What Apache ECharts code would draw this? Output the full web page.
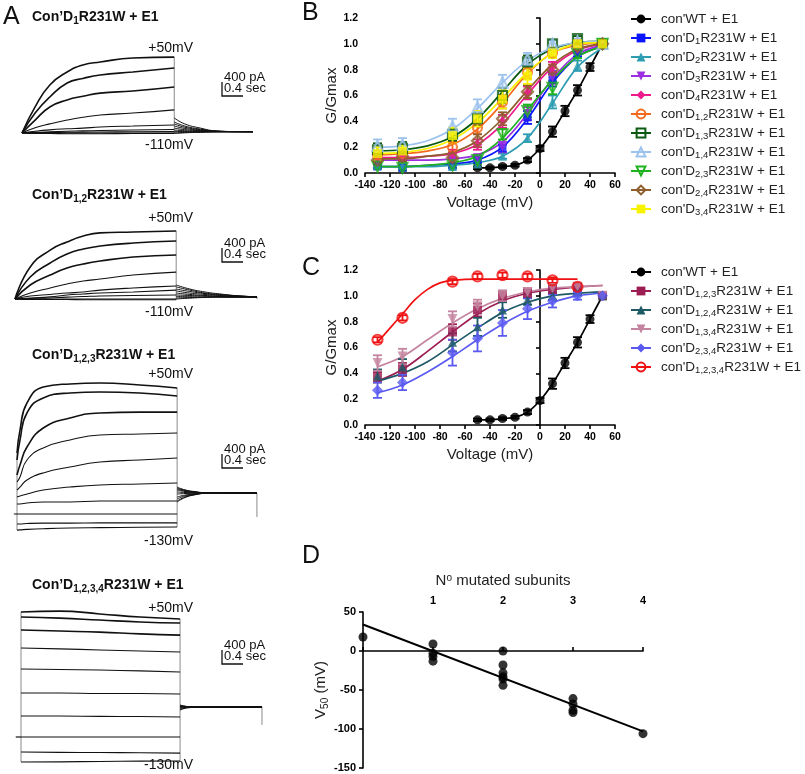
<!DOCTYPE html>
<html><head><meta charset="utf-8">
<script src="https://cdn.jsdelivr.net/npm/echarts@6/dist/echarts.min.js"></script>
<style>html,body{margin:0;padding:0;background:#fff}#c{width:805px;height:774px}</style>
</head><body><div id="c"></div>
<script>
const FONT = "'Liberation Sans', Arial, Helvetica, sans-serif";

// ---------------- Panel A : current traces (time in s, current in pA) ----------------
const a1StepT = [0, 0.25, 0.53, 0.86, 1.16, 1.49, 2.11, 2.9];
const a1Step = [
  [0, 745, 1373, 1745, 1945, 2030, 2145, 2170],
  [0, 570, 1030, 1430, 1560, 1660, 1745, 1860],
  [0, 370, 745, 945, 1050, 1140, 1200, 1315],
  [0, 150, 260, 370, 450, 515, 570, 660],
  [0, 50, 90, 120, 140, 170, 200, 230],
  [0, 20, 35, 50, 60, 70, 85, 100],
  [0, 10, 15, 20, 25, 30, 35, 40],
  [0, 0, 0, 0, 0, 0, 0, 0],
  [0, -15, -15, -20, -20, -20, -15, -15]
];
const a1TailT = [2.9, 3.1, 3.4, 3.7, 4.1, 4.4];
const a1Tail = [
  [430, 260, 140, 60, 40, 37],
  [315, 200, 110, 55, 40, 37],
  [260, 165, 95, 50, 40, 37],
  [200, 130, 80, 48, 40, 37],
  [140, 95, 65, 45, 38, 37],
  [85, 65, 50, 42, 38, 37],
  [45, 42, 40, 38, 37, 37],
  [5, 15, 25, 32, 35, 37],
  [-15, 5, 20, 30, 35, 37]
];

const a2StepT = [0, 0.29, 0.67, 0.99, 1.30, 1.62, 2.25, 3.07];
const a2Step = [
  [0, 915, 1400, 1630, 1800, 1890, 1915, 1945],
  [0, 630, 1030, 1285, 1430, 1515, 1600, 1660],
  [0, 400, 685, 885, 1000, 1085, 1200, 1260],
  [0, 170, 315, 430, 515, 570, 685, 770],
  [0, 85, 130, 170, 200, 255, 315, 370],
  [0, 30, 60, 115, 145, 170, 200, 255],
  [0, 15, 30, 55, 70, 85, 100, 115],
  [0, 0, 0, 0, 0, 0, 0, 0],
  [0, -15, -15, -15, -20, -20, -20, -20]
];
const a2TailT = [3.07, 3.33, 3.62, 3.90, 4.29, 4.61];
const a2Tail = [
  [400, 285, 200, 145, 85, 60],
  [345, 255, 170, 130, 85, 60],
  [285, 215, 155, 115, 85, 60],
  [230, 170, 130, 100, 70, 60],
  [170, 130, 100, 85, 70, 60],
  [115, 100, 85, 70, 60, 60],
  [70, 65, 60, 60, 55, 55],
  [30, 40, 50, 55, 55, 55],
  [0, 25, 45, 55, 55, 55]
];
const a2EndDrop = 0;

const a3StepT = [0, 0.057, 0.19, 0.50, 1.01, 1.58, 2.34, 3.05];
const a3Step = [
  [1745, 2400, 3175, 3630, 3720, 3745, 3690, 3605],
  [1545, 2115, 2890, 3320, 3460, 3490, 3460, 3375],
  [1115, 1400, 1915, 2460, 2745, 2890, 2915, 2915],
  [915, 1060, 1545, 1890, 2115, 2260, 2290, 2315],
  [685, 770, 970, 1175, 1345, 1485, 1545, 1600],
  [485, 515, 570, 685, 770, 830, 860, 885],
  [285, 285, 315, 345, 345, 370, 370, 370],
  [0, 0, 0, 0, 0, 0, 0, 0],
  [-285, -285, -270, -260, -260, -255, -255, -255],
  [-460, -455, -440, -420, -400, -390, -380, -370]
];
const a3TailT = [3.05, 3.2, 3.39, 3.62, 4.06, 4.57];
const a3Tail = [
  [770, 690, 640, 605, 600, 600],
  [745, 675, 630, 605, 600, 600],
  [715, 660, 625, 603, 600, 600],
  [685, 645, 620, 602, 600, 600],
  [630, 615, 607, 601, 600, 600],
  [570, 585, 593, 599, 600, 600],
  [485, 540, 575, 597, 600, 600],
  [430, 515, 565, 595, 600, 600],
  [370, 485, 555, 594, 600, 600],
  [345, 470, 550, 593, 600, 600]
];
const a3PreT = -0.06;
const a3EndDrop = -85;

const a4StepT = [0, 0.74, 1.5, 2.27, 3.03];
const a4Step = [
  [3575, 3600, 3520, 3430, 3375],
  [3430, 3400, 3345, 3290, 3260],
  [3060, 3030, 3000, 2950, 2915],
  [2545, 2520, 2490, 2460, 2430],
  [1945, 1930, 1915, 1890, 1860],
  [1260, 1260, 1245, 1245, 1230],
  [600, 600, 590, 585, 570],
  [0, 0, 0, 0, 0],
  [-430, -440, -445, -450, -460],
  [-715, -710, -700, -690, -685]
];
const a4TailT = [3.03, 3.1, 3.2, 3.5, 4.0, 4.59];
const a4Tail = [
  [915, 890, 870, 862, 860, 860],
  [900, 880, 868, 861, 860, 860],
  [890, 875, 866, 861, 860, 860],
  [880, 870, 864, 860, 860, 860],
  [870, 865, 862, 860, 860, 860],
  [855, 857, 859, 860, 860, 860],
  [835, 845, 853, 859, 860, 860],
  [815, 835, 850, 858, 860, 860],
  [790, 820, 843, 857, 860, 860],
  [770, 810, 838, 856, 860, 860]
];
const a4PreT = -0.1;
const a4EndDrop = 345;

const scaleBarPA = 400;
const scaleBarS = 0.4;

// ---------------- Panel B / C : G/Gmax vs voltage ----------------
const vWT = [-50, -40, -30, -20, -10, 0, 10, 20, 30, 40, 50];
const gWT = [0.04, 0.04, 0.05, 0.06, 0.10, 0.19, 0.32, 0.48, 0.64, 0.82, 1.0];
const eWT = [0.01, 0.01, 0.01, 0.01, 0.015, 0.02, 0.04, 0.04, 0.04, 0.03, 0];

const vMut = [-130, -110, -70, -50, -30, -10, 10, 30, 50];
const vFit = [-130, -110, -90, -70, -50, -30, -10, 10, 30, 50];

const gD1 = [0.05, 0.04, 0.05, 0.10, 0.19, 0.43, 0.72, 0.93, 1.0];
const eD1 = [0.02, 0.02, 0.01, 0.02, 0.03, 0.05, 0.05, 0.03, 0];
const fD1 = [0.05, 0.05, 0.06, 0.07, 0.10, 0.20, 0.42, 0.70, 0.90, 0.98];
const gD2 = [0.06, 0.06, 0.05, 0.07, 0.13, 0.27, 0.55, 0.83, 1.0];
const eD2 = [0.02, 0.02, 0.01, 0.02, 0.02, 0.03, 0.05, 0.04, 0];
const fD2 = [0.05, 0.05, 0.05, 0.06, 0.08, 0.13, 0.27, 0.54, 0.82, 0.97];
const gD3 = [0.10, 0.10, 0.10, 0.12, 0.20, 0.46, 0.74, 0.95, 1.0];
const eD3 = [0.02, 0.02, 0.02, 0.02, 0.04, 0.05, 0.05, 0.02, 0];
const fD3 = [0.10, 0.10, 0.10, 0.11, 0.14, 0.24, 0.46, 0.73, 0.92, 0.99];
const gD4 = [0.12, 0.13, 0.15, 0.22, 0.40, 0.62, 0.82, 0.97, 1.0];
const eD4 = [0.03, 0.03, 0.03, 0.04, 0.05, 0.05, 0.04, 0.02, 0];
const fD4 = [0.12, 0.12, 0.13, 0.15, 0.22, 0.38, 0.61, 0.82, 0.95, 1.0];
const gD12 = [0.14, 0.15, 0.20, 0.35, 0.55, 0.78, 0.93, 1.0, 1.0];
const eD12 = [0.03, 0.03, 0.04, 0.05, 0.05, 0.05, 0.03, 0.02, 0];
const fD12 = [0.14, 0.15, 0.17, 0.22, 0.34, 0.54, 0.77, 0.93, 0.99, 1.01];
const gD13 = [0.18, 0.19, 0.30, 0.42, 0.60, 0.86, 1.0, 1.04, 1.0];
const eD13 = [0.05, 0.05, 0.05, 0.05, 0.06, 0.05, 0.03, 0.02, 0];
const fD13 = [0.17, 0.18, 0.21, 0.28, 0.42, 0.63, 0.84, 0.96, 1.01, 1.02];
const gD14 = [0.21, 0.22, 0.36, 0.51, 0.70, 0.88, 1.0, 1.02, 1.0];
const eD14 = [0.05, 0.05, 0.06, 0.06, 0.06, 0.05, 0.03, 0.02, 0];
const fD14 = [0.20, 0.21, 0.25, 0.34, 0.50, 0.70, 0.87, 0.97, 1.01, 1.02];
const gD23 = [0.05, 0.04, 0.06, 0.10, 0.30, 0.48, 0.66, 0.92, 1.0];
const eD23 = [0.02, 0.02, 0.02, 0.03, 0.04, 0.05, 0.05, 0.03, 0];
const fD23 = [0.05, 0.05, 0.06, 0.08, 0.13, 0.27, 0.49, 0.72, 0.90, 0.98];
const gD24 = [0.10, 0.13, 0.12, 0.25, 0.42, 0.63, 0.80, 0.98, 1.0];
const eD24 = [0.04, 0.04, 0.04, 0.05, 0.05, 0.05, 0.04, 0.02, 0];
const fD24 = [0.11, 0.11, 0.13, 0.16, 0.25, 0.42, 0.64, 0.84, 0.96, 1.0];
const gD34 = [0.15, 0.17, 0.29, 0.42, 0.57, 0.75, 0.93, 1.0, 1.0];
const eD34 = [0.05, 0.05, 0.06, 0.06, 0.07, 0.06, 0.04, 0.02, 0];
const fD34 = [0.15, 0.16, 0.19, 0.26, 0.39, 0.58, 0.78, 0.93, 1.0, 1.01];

const gD123 = [0.37, 0.43, 0.72, 0.89, 1.0, 1.02, 1.05, 1.07, 1.0];
const eD123 = [0.04, 0.05, 0.06, 0.05, 0.04, 0.03, 0.03, 0.02, 0];
const fD123 = [0.34, 0.43, 0.57, 0.72, 0.86, 0.96, 1.02, 1.05, 1.07, 1.08];
const gD124 = [0.38, 0.45, 0.64, 0.76, 0.89, 0.97, 1.0, 1.03, 1.0];
const eD124 = [0.05, 0.06, 0.07, 0.07, 0.06, 0.04, 0.03, 0.02, 0];
const fD124 = [0.34, 0.40, 0.49, 0.62, 0.75, 0.87, 0.95, 1.0, 1.02, 1.03];
const gD134 = [0.48, 0.53, 0.82, 0.92, 1.0, 1.03, 1.06, 1.07, 1.0];
const eD134 = [0.06, 0.06, 0.06, 0.05, 0.04, 0.03, 0.02, 0.02, 0];
const fD134 = [0.45, 0.53, 0.66, 0.79, 0.90, 0.98, 1.03, 1.06, 1.07, 1.08];
const gD234 = [0.27, 0.33, 0.56, 0.67, 0.79, 0.90, 0.96, 1.0, 1.0];
const eD234 = [0.06, 0.06, 0.10, 0.10, 0.10, 0.08, 0.05, 0.03, 0];
const fD234 = [0.25, 0.31, 0.41, 0.53, 0.66, 0.78, 0.88, 0.95, 1.0, 1.02];
const vD1234 = [-130, -110, -70, -50, -30, -10, 10, 30];
const gD1234 = [0.66, 0.83, 1.11, 1.15, 1.16, 1.15, 1.12, 1.07];
const eD1234 = [0.02, 0.02, 0.02, 0.02, 0.02, 0.02, 0.02, 0.02];
const vFitD1234 = [-130, -120, -110, -100, -90, -80, -70, -50, -10, 30];
const fD1234 = [0.64, 0.75, 0.86, 0.97, 1.05, 1.10, 1.12, 1.13, 1.13, 1.13];

// ---------------- Panel D : V50 vs number of mutated subunits ----------------
const dN = [0, 1, 1, 1, 1, 2, 2, 2, 2, 2, 2, 3, 3, 3, 3, 4];
const dV50 = [18, 9, -3, -7, -13, 0, -18, -28, -33, -36, -44, -61, -68, -76, -79, -106];
const regN = [0, 4];
const regV50 = [34, -103];

// ---------------- Styles / layout ----------------
const PX_S = 52.5;   // pixels per second in panel A
const PA_PX = 28.6;  // pA per pixel in panel A
const aLayout = [
  {x0: 22, y0: 133, tMin: -0.2, tMax: 4.6, iMin: -800, iMax: 2600},
  {x0: 15, y0: 299, tMin: -0.2, tMax: 4.8, iMin: -800, iMax: 2400},
  {x0: 17, y0: 514, tMin: -0.2, tMax: 4.8, iMin: -800, iMax: 4000},
  {x0: 21, y0: 737, tMin: -0.2, tMax: 4.8, iMin: -900, iMax: 3900}
];
const INV_TRI = 'path://M0,0 L10,0 L5,9 Z';

const bSpecs = [
  {name: "con'WT + E1", x: vWT, y: gWT, e: eWT, fx: vWT, fy: gWT, color: '#000000', symbol: 'circle', open: false, size: 9},
  {name: "con'D1R231W + E1", x: vMut, y: gD1, e: eD1, fx: vFit, fy: fD1, color: '#0a14ff', symbol: 'rect', open: false, size: 8},
  {name: "con'D2R231W + E1", x: vMut, y: gD2, e: eD2, fx: vFit, fy: fD2, color: '#2e9db3', symbol: 'triangle', open: false, size: 9},
  {name: "con'D3R231W + E1", x: vMut, y: gD3, e: eD3, fx: vFit, fy: fD3, color: '#9b2ee0', symbol: INV_TRI, open: false, size: 9},
  {name: "con'D4R231W + E1", x: vMut, y: gD4, e: eD4, fx: vFit, fy: fD4, color: '#ee1a8c', symbol: 'diamond', open: false, size: 10},
  {name: "con'D1,2R231W + E1", x: vMut, y: gD12, e: eD12, fx: vFit, fy: fD12, color: '#f5691c', symbol: 'circle', open: true, size: 9},
  {name: "con'D1,3R231W + E1", x: vMut, y: gD13, e: eD13, fx: vFit, fy: fD13, color: '#0b5a12', symbol: 'rect', open: true, size: 9},
  {name: "con'D1,4R231W + E1", x: vMut, y: gD14, e: eD14, fx: vFit, fy: fD14, color: '#9cc3ee', symbol: 'triangle', open: true, size: 10},
  {name: "con'D2,3R231W + E1", x: vMut, y: gD23, e: eD23, fx: vFit, fy: fD23, color: '#1fb21f', symbol: INV_TRI, open: true, size: 10},
  {name: "con'D2,4R231W + E1", x: vMut, y: gD24, e: eD24, fx: vFit, fy: fD24, color: '#8e5e2c', symbol: 'diamond', open: true, size: 11},
  {name: "con'D3,4R231W + E1", x: vMut, y: gD34, e: eD34, fx: vFit, fy: fD34, color: '#f7f200', symbol: 'rect', open: false, size: 9}
];
const cSpecs = [
  {name: "con'WT + E1", x: vWT, y: gWT, e: eWT, fx: vWT, fy: gWT, color: '#000000', symbol: 'circle', open: false, size: 9},
  {name: "con'D1,2,3R231W + E1", x: vMut, y: gD123, e: eD123, fx: vFit, fy: fD123, color: '#9c1d52', symbol: 'rect', open: false, size: 9},
  {name: "con'D1,2,4R231W + E1", x: vMut, y: gD124, e: eD124, fx: vFit, fy: fD124, color: '#1d5a66', symbol: 'triangle', open: false, size: 9},
  {name: "con'D1,3,4R231W + E1", x: vMut, y: gD134, e: eD134, fx: vFit, fy: fD134, color: '#c4849f', symbol: INV_TRI, open: false, size: 10},
  {name: "con'D2,3,4R231W + E1", x: vMut, y: gD234, e: eD234, fx: vFit, fy: fD234, color: '#5a5af2', symbol: 'diamond', open: false, size: 11},
  {name: "con'D1,2,3,4R231W + E1", x: vD1234, y: gD1234, e: eD1234, fx: vFitD1234, fy: fD1234, color: '#f01010', symbol: 'circle', open: true, size: 10}
];

const series = [];

function errSeries(gi, xs, ys, es, color) {
  return {
    type: 'custom', xAxisIndex: gi, yAxisIndex: gi, silent: true, z: 3,
    data: xs.map((x, i) => [x, ys[i], es[i]]),
    renderItem(params, api) {
      const x = api.value(0), y = api.value(1), e = api.value(2);
      if (!e) return null;
      const p1 = api.coord([x, y + e]), p2 = api.coord([x, y - e]);
      const hw = 4.5, st = {stroke: color, lineWidth: 1.8};
      return {type: 'group', children: [
        {type: 'line', shape: {x1: p1[0], y1: p1[1], x2: p2[0], y2: p2[1]}, style: st},
        {type: 'line', shape: {x1: p1[0] - hw, y1: p1[1], x2: p1[0] + hw, y2: p1[1]}, style: st},
        {type: 'line', shape: {x1: p2[0] - hw, y1: p2[1], x2: p2[0] + hw, y2: p2[1]}, style: st}
      ]};
    }
  };
}

function addGV(specs, gi) {
  specs.forEach(s => {
    const itemStyle = s.open
      ? {color: 'rgba(255,255,255,0)', borderColor: s.color, borderWidth: 2.2}
      : {color: s.color, borderWidth: 0};
    series.push({
      type: 'line', name: s.name, xAxisIndex: gi, yAxisIndex: gi,
      data: s.fx.map((v, i) => [v, s.fy[i]]),
      smooth: 0.35, showSymbol: false,
      symbol: s.symbol, symbolSize: s.size, itemStyle,
      lineStyle: {color: s.color, width: 1.7}, silent: true, z: 2
    });
    series.push(errSeries(gi, s.x, s.y, s.e, s.color));
    series.push({
      type: 'scatter', name: s.name, xAxisIndex: gi, yAxisIndex: gi,
      data: s.x.map((v, i) => [v, s.y[i]]),
      symbol: s.symbol, symbolSize: s.size, itemStyle, silent: true, z: 4
    });
  });
}
addGV(bSpecs, 0);
addGV(cSpecs, 1);

// Panel D
series.push({
  type: 'line', xAxisIndex: 2, yAxisIndex: 2,
  data: regN.map((n, i) => [n, regV50[i]]),
  showSymbol: false, symbol: 'none', lineStyle: {color: '#000', width: 2}, silent: true, z: 2
});
series.push({
  type: 'scatter', xAxisIndex: 2, yAxisIndex: 2,
  data: dN.map((n, i) => [n, dV50[i]]),
  symbol: 'circle', symbolSize: 9, itemStyle: {color: '#000'}, silent: true, z: 3, clip: false
});

// Panel A traces
function traceSeries(gi, tArr, vals, width) {
  return {
    type: 'line', xAxisIndex: gi, yAxisIndex: gi,
    data: tArr.map((t, i) => [t, vals[i]]),
    smooth: 0.5, showSymbol: false, symbol: 'none',
    lineStyle: {color: '#111', width}, silent: true, z: 2
  };
}
function connectorSeries(gi, segs) {
  return {
    type: 'custom', xAxisIndex: gi, yAxisIndex: gi, silent: true, z: 1,
    data: segs,
    renderItem(params, api) {
      const a = api.coord([api.value(0), api.value(1)]);
      const b = api.coord([api.value(0), api.value(2)]);
      return {type: 'line', shape: {x1: a[0], y1: a[1], x2: b[0], y2: b[1]}, style: {stroke: '#8a8a8a', lineWidth: 1}};
    }
  };
}
const aPanels = [
  {stepT: a1StepT, step: a1Step, tailT: a1TailT, tail: a1Tail, preT: null, endDrop: null},
  {stepT: a2StepT, step: a2Step, tailT: a2TailT, tail: a2Tail, preT: null, endDrop: a2EndDrop},
  {stepT: a3StepT, step: a3Step, tailT: a3TailT, tail: a3Tail, preT: a3PreT, endDrop: a3EndDrop},
  {stepT: a4StepT, step: a4Step, tailT: a4TailT, tail: a4Tail, preT: a4PreT, endDrop: a4EndDrop}
];
aPanels.forEach((p, k) => {
  const gi = 3 + k;
  const segs = [];
  const starts = p.step.map(a => a[0]).concat([0]);
  if (p.preT !== null) {
    segs.push([0, Math.min(...starts), Math.max(...starts)]);
    series.push(traceSeries(gi, [p.preT, 0], [0, 0], 1.2));
  }
  const tEnd = p.stepT[p.stepT.length - 1];
  const ends = p.step.map(a => a[a.length - 1]).concat(p.tail.map(a => a[0]));
  segs.push([tEnd, Math.min(...ends), Math.max(...ends)]);
  if (p.endDrop !== null) {
    const tl = p.tailT[p.tailT.length - 1];
    const lasts = p.tail.map(a => a[a.length - 1]).concat([p.endDrop]);
    segs.push([tl, Math.min(...lasts), Math.max(...lasts)]);
  }
  series.push(connectorSeries(gi, segs));
  p.step.forEach((vals, i) => series.push(traceSeries(gi, p.stepT, vals, i < 3 ? 1.6 : 1.1)));
  p.tail.forEach((vals) => series.push(traceSeries(gi, p.tailT, vals, 1.0)));
});

// ---------------- Grids & axes ----------------
const grids = [
  {left: 365, top: 18, width: 250, height: 155},
  {left: 365, top: 270, width: 250, height: 155},
  {left: 363, top: 612, width: 280, height: 156}
];
aLayout.forEach(L => grids.push({
  left: L.x0 + L.tMin * PX_S, width: (L.tMax - L.tMin) * PX_S,
  top: L.y0 - L.iMax / PA_PX, height: (L.iMax - L.iMin) / PA_PX
}));

const axLine = {lineStyle: {color: '#000', width: 1.6}};
const axTick = {length: 4, lineStyle: {color: '#000', width: 1.6}};
const tickLbl = {fontFamily: FONT, fontWeight: 'bold', fontSize: 10.5, color: '#000'};
const nameStyle = {fontFamily: FONT, fontSize: 15, color: '#222'};

const xAxes = [], yAxes = [];
[0, 1].forEach(gi => {
  xAxes.push({gridIndex: gi, type: 'value', min: -140, max: 60, interval: 20,
    axisLine: axLine, axisTick: axTick, splitLine: {show: false},
    axisLabel: Object.assign({margin: 7}, tickLbl),
    name: 'Voltage (mV)', nameLocation: 'middle', nameGap: 22, nameTextStyle: nameStyle});
  yAxes.push({gridIndex: gi, type: 'value', min: 0, max: 1.2, interval: 0.2,
    axisLine: Object.assign({show: true}, axLine), axisTick: Object.assign({show: true}, axTick), splitLine: {show: false},
    axisLabel: Object.assign({margin: 7, formatter: v => v.toFixed(1)}, tickLbl),
    name: 'G/Gmax', nameLocation: 'middle', nameGap: 26, nameTextStyle: nameStyle});
});
xAxes.push({gridIndex: 2, type: 'value', position: 'top', min: 0, max: 4, interval: 1,
  axisLine: axLine, axisTick: axTick, splitLine: {show: false},
  axisLabel: Object.assign({margin: 6, formatter: v => v === 0 ? '' : String(v)}, tickLbl, {fontSize: 11}),
  name: 'N{sup|o} mutated subunits', nameLocation: 'middle', nameGap: 24,
  nameTextStyle: Object.assign({}, nameStyle, {rich: {sup: {fontFamily: FONT, fontSize: 10, lineHeight: 10, verticalAlign: 'top', color: '#222'}}})});
yAxes.push({gridIndex: 2, type: 'value', min: -150, max: 50, interval: 50,
  axisLine: Object.assign({show: true}, axLine), axisTick: Object.assign({show: true}, axTick), splitLine: {show: false},
  axisLabel: Object.assign({margin: 7}, tickLbl, {fontSize: 11}),
  name: 'V{s|50} (mV)', nameLocation: 'middle', nameGap: 30,
  nameTextStyle: Object.assign({}, nameStyle, {lineHeight: 18, rich: {s: {fontFamily: FONT, fontSize: 10, lineHeight: 10, verticalAlign: 'bottom', color: '#222'}}})});
aLayout.forEach((L, k) => {
  xAxes.push({gridIndex: 3 + k, type: 'value', min: L.tMin, max: L.tMax, show: false});
  yAxes.push({gridIndex: 3 + k, type: 'value', min: L.iMin, max: L.iMax, show: false});
});

// ---------------- Legends ----------------
const legendRich = {
  g: {width: 5},
  s: {fontFamily: FONT, fontSize: 9.5, lineHeight: 9, verticalAlign: 'bottom', color: '#222'}
};
function legendFmt(name) {
  const m = name.match(/^con'D([\d,]+)(R231W.*)$/);
  return m ? "{g|}con'D{s|" + m[1] + "}" + m[2] : '{g|}' + name;
}
function mkLegend(specs, top) {
  return {
    data: specs.map(s => s.name), orient: 'vertical', left: 630, top,
    itemWidth: 20, itemHeight: 11, itemGap: 3, padding: 0, selectedMode: false,
    formatter: legendFmt,
    textStyle: {fontFamily: FONT, fontSize: 13.5, color: '#222', lineHeight: 16, rich: legendRich}
  };
}

// ---------------- Graphic text ----------------
const graphics = [];
const subRich = {s: {fontFamily: FONT, fontSize: 10, fontWeight: 'bold', lineHeight: 10, verticalAlign: 'bottom', fill: '#111'}};
function txt(x, y, text, opts) {
  graphics.push({type: 'text', x, y, silent: true,
    style: Object.assign({text, fontFamily: FONT, fontSize: 14, fill: '#111', align: 'left', verticalAlign: 'middle'}, opts)});
}
txt(3, 17, 'A', {fontSize: 25});
txt(302, 13, 'B', {fontSize: 25});
txt(302, 268, 'C', {fontSize: 25});
txt(302, 556, 'D', {fontSize: 25});

const titles = [
  ['Con\u2019D{s|1}R231W + E1', 17],
  ['Con\u2019D{s|1,2}R231W + E1', 195],
  ['Con\u2019D{s|1,2,3}R231W + E1', 355],
  ['Con\u2019D{s|1,2,3,4}R231W + E1', 585]
];
titles.forEach(([t, y]) => txt(32, y, t, {fontWeight: 'bold', fontSize: 14, lineHeight: 18, rich: subRich}));
const vLabels = [[48, 145, '-110mV'], [218, 312, '-110mV'], [374, 541, '-130mV'], [608, 765, '-130mV']];
vLabels.forEach(([yTop, yBot, lo]) => {
  txt(193, yTop, '+50mV', {align: 'right', fontSize: 14});
  txt(193, yBot, lo, {align: 'right', fontSize: 14});
});
const barCorners = [96, 262, 468, 664];
barCorners.forEach(cy => {
  const h = scaleBarPA / PA_PX, w = scaleBarS * PX_S;
  graphics.push({type: 'polyline', silent: true, shape: {points: [[222, cy - h], [222, cy], [222 + w, cy]]},
    style: {stroke: '#111', lineWidth: 1.3, fill: null}});
  txt(224, cy - 19, scaleBarPA + ' pA', {fontSize: 13});
  txt(224, cy - 8, scaleBarS + ' sec', {fontSize: 13});
});

const chart = echarts.init(document.getElementById('c'), null, {renderer: 'canvas', width: 805, height: 774});
chart.setOption({
  animation: false,
  backgroundColor: '#ffffff',
  textStyle: {fontFamily: FONT},
  grid: grids,
  xAxis: xAxes,
  yAxis: yAxes,
  legend: [mkLegend(bSpecs, 11), mkLegend(cSpecs, 264)],
  graphic: graphics,
  series
});
</script></body></html>
